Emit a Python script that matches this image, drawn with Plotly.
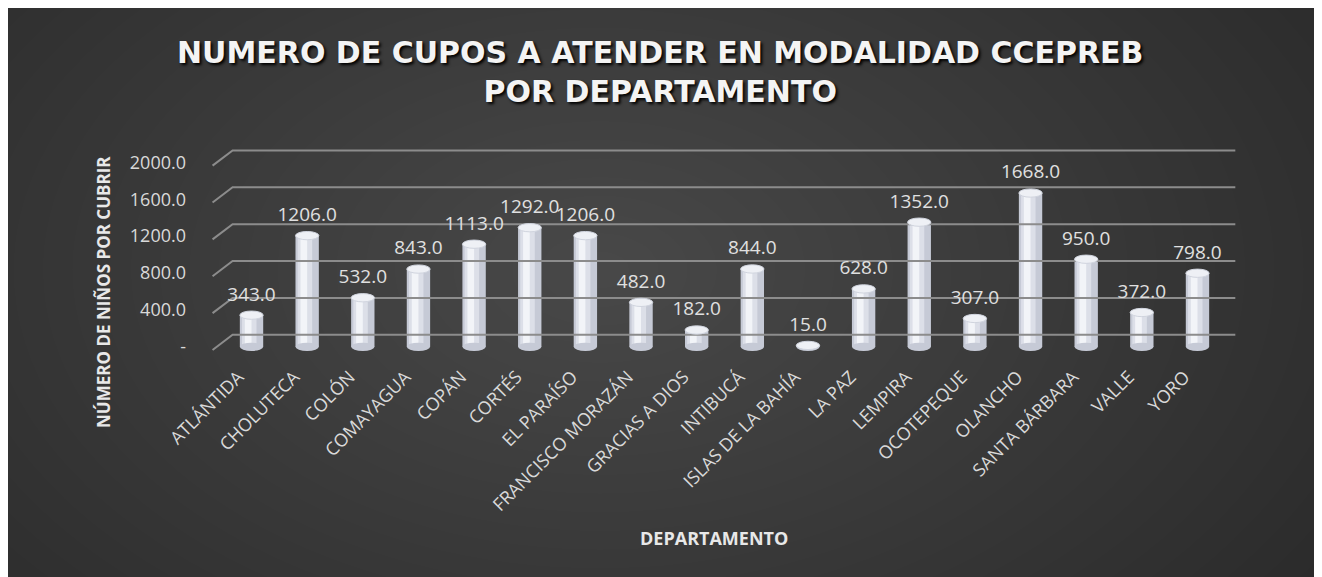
import plotly.graph_objects as go

# =====================================================
# DATOS
# =====================================================

departamentos = [
    "ATLÁNTIDA", "CHOLUTECA", "COLÓN", "COMAYAGUA", "COPÁN", "CORTÉS",
    "EL PARAÍSO", "FRANCISCO MORAZÁN", "GRACIAS A DIOS", "INTIBUCÁ",
    "ISLAS DE LA BAHÍA", "LA PAZ", "LEMPIRA", "OCOTEPEQUE", "OLANCHO",
    "SANTA BÁRBARA", "VALLE", "YORO"
]

cupos = [343, 1206, 532, 843, 1113, 1292, 1206, 482, 182, 844,
         15, 628, 1352, 307, 1668, 950, 372, 798]

y_ticks = [0, 400, 800, 1200, 1600, 2000]
y_tick_text = ["-", "400.0", "800.0", "1200.0", "1600.0", "2000.0"]

# =====================================================
# GEOMETRIA (pixeles de la pagina; el body tiene margen de 8px)
# =====================================================

OX, OY = 8, 8
W, H = 1311, 569
PL, PR = 207, 1242      # area de trazado, x (pagina)
PT, PB = 144, 356       # area de trazado, y (pagina)


def px(x):
    return (x - PL) / (PR - PL)


def py(y):
    return (PB - y) / (PB - PT)


idx = list(range(len(departamentos)))

fig = go.Figure()

# lineas de cuadricula en perspectiva
gx, gy = [], []
for v in y_ticks:
    gx += [-0.70, -0.34, 17.68, None]
    gy += [v - 35, v + 130, v + 130, None]

fig.add_trace(go.Scatter(
    x=gx, y=gy, mode="lines",
    line=dict(color="#8c8c8c", width=2),
    hoverinfo="skip", showlegend=False
))

# cilindros: cuerpo + brillos
fig.add_trace(go.Bar(
    x=idx, y=cupos, width=0.42, offset=-0.21,
    marker=dict(color="#c6cad6", line=dict(width=0)),
    showlegend=False, hoverinfo="skip"
))
fig.add_trace(go.Bar(
    x=idx, y=cupos, width=0.26, offset=-0.17,
    marker=dict(color="#dcdfe8", line=dict(width=0)),
    showlegend=False, hoverinfo="skip"
))
fig.add_trace(go.Bar(
    x=idx, y=cupos, width=0.12, offset=-0.12,
    marker=dict(color="#f2f4f8", line=dict(width=0)),
    showlegend=False,
    customdata=departamentos,
    hovertemplate="%{customdata}: %{y:.1f}<extra></extra>"
))

# etiquetas de datos
fig.add_trace(go.Scatter(
    x=idx, y=[v + 210 for v in cupos], mode="text",
    text=[f"{v:.1f}" for v in cupos],
    textposition="middle center",
    textfont=dict(family="Open Sans", size=19, color="#e0e0e0"),
    hoverinfo="skip", showlegend=False
))

shapes = []

# degradado radial del fondo
cx, cy = 600, 270
n = 30
for k in range(n):
    f = 1 - k / n
    rx, ry = 880 * f, 560 * f
    shapes.append(dict(
        type="circle", xref="paper", yref="paper", layer="below",
        x0=px(cx - rx), x1=px(cx + rx),
        y0=py(cy + ry), y1=py(cy - ry),
        fillcolor="rgba(255,255,255,0.009)", line=dict(width=0)
    ))

# tapas superiores e inferiores de los cilindros
for i, v in zip(idx, cupos):
    shapes.append(dict(
        type="circle", xref="x", yref="y", layer="above",
        x0=i - 0.21, x1=i + 0.21, y0=-45, y1=45,
        fillcolor="#c6cad6", line=dict(width=0)
    ))
    shapes.append(dict(
        type="circle", xref="x", yref="y", layer="above",
        x0=i - 0.21, x1=i + 0.21, y0=v - 45, y1=v + 45,
        fillcolor="#eef0f5", line=dict(color="#d0d4de", width=1)
    ))

fig.update_layout(
    width=W, height=H,
    margin=dict(l=PL - OX, r=W - (PR - OX), t=PT - OY, b=H - (PB - OY)),
    paper_bgcolor="#2a2a2a",
    plot_bgcolor="rgba(0,0,0,0)",
    barmode="overlay",
    showlegend=False,
    shapes=shapes,
    annotations=[
        dict(
            text="<b>NUMERO DE CUPOS A ATENDER EN MODALIDAD CCEPREB"
                 "<br>POR DEPARTAMENTO</b>",
            xref="paper", yref="paper", x=px(660), y=py(72),
            xanchor="center", yanchor="middle", showarrow=False,
            font=dict(family="DejaVu Sans", size=30, color="#f4f4f4",
                      shadow="2px 2px 3px #000000")
        ),
        dict(
            text="<b>NÚMERO DE NIÑOS POR CUBRIR</b>",
            xref="paper", yref="paper", x=px(103), y=py(292),
            xanchor="center", yanchor="middle",
            textangle=-90, showarrow=False,
            font=dict(family="Open Sans", size=17, color="#e8e8e8")
        ),
        dict(
            text="<b>DEPARTAMENTO</b>",
            xref="paper", yref="paper", x=px(714), y=py(538),
            xanchor="center", yanchor="middle", showarrow=False,
            font=dict(family="Open Sans", size=18, color="#e8e8e8")
        )
    ]
)

fig.update_xaxes(
    range=[-0.8, 17.8],
    tickvals=idx, ticktext=departamentos,
    tickangle=-45,
    tickfont=dict(family="Open Sans", size=18, color="#d9d9d9"),
    showgrid=False, zeroline=False, showline=False,
    ticks="", ticklabelshift=-13, ticklabelstandoff=6
)

fig.update_yaxes(
    range=[-100, 2200],
    tickvals=y_ticks, ticktext=y_tick_text,
    tickfont=dict(family="Open Sans", size=18, color="#d9d9d9"),
    showgrid=False, zeroline=False, showline=False,
    ticks="", ticklabelstandoff=20
)

fig.write_html("out.html")
